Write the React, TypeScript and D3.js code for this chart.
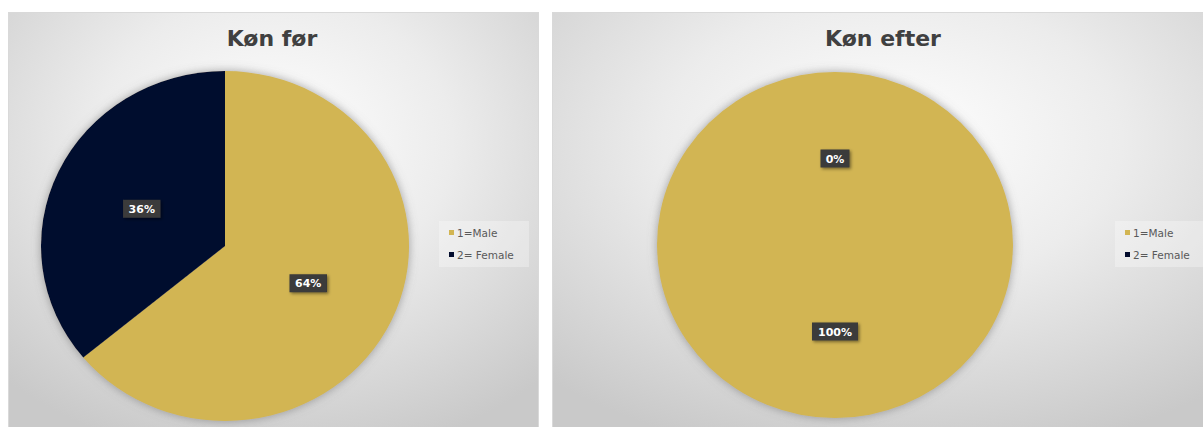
import React from "react";
import * as d3 from "d3";

const titles = ["Køn før", "Køn efter"];
const categories = ["1=Male", "2= Female"];
const valuesBefore = [64, 36];
const valuesAfter = [100, 0];
const colors = ["#D2B552", "#030C2D"];

type PanelCfg = {
  title: string;
  values: number[];
  px: number; pw: number;
  cx: number; cy: number; rx: number; ry: number;
  titleX: number;
  legX: number; legW: number;
  id: string;
};

const panels: PanelCfg[] = [
  { title: titles[0], values: valuesBefore, px: 8.5, pw: 530, cx: 225, cy: 246, rx: 184, ry: 175, titleX: 272, legX: 439, legW: 90, id: "a" },
  { title: titles[1], values: valuesAfter, px: 552.5, pw: 680, cx: 835, cy: 245, rx: 178, ry: 173, titleX: 883, legX: 1115, legW: 95, id: "b" },
];

function Panel({ p }: { p: PanelCfg }) {
  const pie = d3.pie<number>().sort(null).value((d) => d);
  const arcs = pie(p.values);
  const arc = d3.arc<d3.PieArcDatum<number>>().innerRadius(0).outerRadius(p.rx);
  const total = d3.sum(p.values);
  const sy = p.ry / p.rx;
  const fmt = (v: number) => `${Math.round((v / total) * 100)}%`;
  const legItemsY = [233, 255];
  return (
    <g>
      <rect x={p.px} y={12.5} width={p.pw} height={430} fill={`url(#bg-${p.id})`} stroke="#d9d9d9" strokeWidth={1} />
      <text x={p.titleX} y={46} textAnchor="middle" fontFamily="DejaVu Sans" fontWeight="bold" fontSize={22} fill="#404040">
        {p.title}
      </text>
      <g transform={`translate(${p.cx},${p.cy}) scale(1,${sy})`} filter="url(#pieShadow)">
        {arcs.map((a, i) => (
          <path key={i} d={arc(a) || ""} fill={colors[i]} />
        ))}
      </g>
      {arcs.map((a, i) => {
        const [lx, ly] = arc.centroid(a);
        const x = p.cx + lx;
        const y = p.cy + ly * sy;
        const label = fmt(a.data);
        const w = label.length * 8.5 + 12;
        return (
          <g key={"l" + i}>
            <rect x={x - w / 2} y={y - 9} width={w} height={18} fill="#3a3a3a" filter="url(#lblShadow)" />
            <text x={x} y={y + 4} textAnchor="middle" fontFamily="DejaVu Sans" fontWeight="bold" fontSize={11} fill="#ffffff">
              {label}
            </text>
          </g>
        );
      })}
      <rect x={p.legX} y={221} width={p.legW} height={46} fill="#ffffff" opacity={0.3} />
      {categories.map((c, i) => (
        <g key={c}>
          <rect x={p.legX + 10} y={legItemsY[i] - 3} width={5} height={5} fill={colors[i]} />
          <text x={p.legX + 18} y={legItemsY[i] + 3.5} fontFamily="DejaVu Sans" fontSize={10.5} fill="#595959">
            {c}
          </text>
        </g>
      ))}
    </g>
  );
}

export default function App() {
  return (
    <svg width={1203} height={427} style={{ position: "absolute", left: 0, top: 0, display: "block" }}>
      <defs>
        {panels.map((p) => (
          <radialGradient key={p.id} id={`bg-${p.id}`} cx="0.5" cy="0.3" r="0.75">
            <stop offset="0" stopColor="#ffffff" />
            <stop offset="0.45" stopColor="#ececec" />
            <stop offset="1" stopColor="#c9c9c9" />
          </radialGradient>
        ))}
        <filter id="pieShadow" x="-20%" y="-20%" width="140%" height="140%">
          <feDropShadow dx="0" dy="0" stdDeviation="5" floodColor="#6a6a6a" floodOpacity="0.6" />
        </filter>
        <filter id="lblShadow" x="-30%" y="-30%" width="160%" height="160%">
          <feDropShadow dx="1.5" dy="1.5" stdDeviation="1.5" floodColor="#000" floodOpacity="0.45" />
        </filter>
      </defs>
      <rect x={0} y={0} width={1203} height={427} fill="#ffffff" />
      {panels.map((p) => (
        <Panel key={p.id} p={p} />
      ))}
    </svg>
  );
}
